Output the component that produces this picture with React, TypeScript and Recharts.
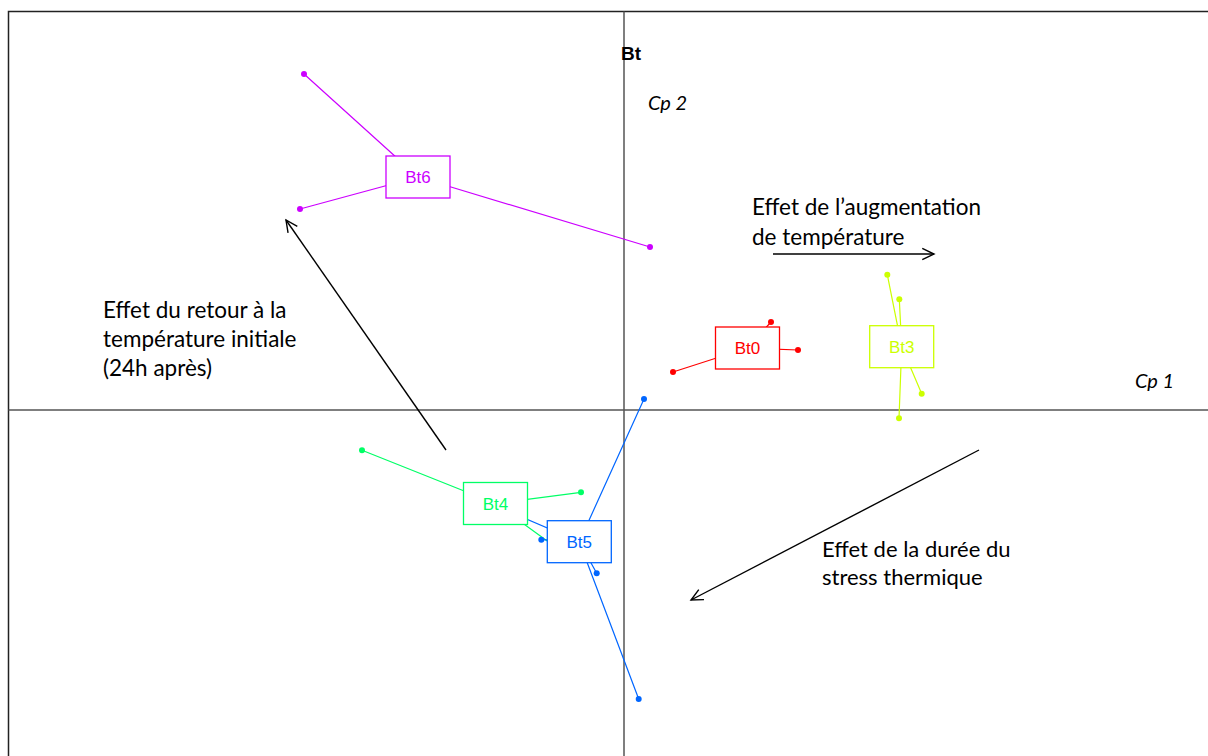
import React from 'react';
import {
  ScatterChart,
  Scatter,
  XAxis,
  YAxis,
  ReferenceLine,
  ReferenceArea,
  ReferenceDot,
} from 'recharts';

// ---- data (principal plane coordinates, Cp1 / Cp2) ----
const groupNames = ['Bt0', 'Bt3', 'Bt4', 'Bt5', 'Bt6'];
const groupColors = ['#FF0000', '#CCFF00', '#00FF66', '#0066FF', '#CC00FF'];

const bt0Points = [
  { x: 1.47, y: 0.88 },
  { x: 1.74, y: 0.6 },
  { x: 0.49, y: 0.38 },
];
const bt3Points = [
  { x: 2.633, y: 1.353 },
  { x: 2.753, y: 1.107 },
  { x: 2.977, y: 0.163 },
  { x: 2.75, y: -0.083 },
];
const bt4Points = [
  { x: -2.62, y: -0.403 },
  { x: -0.43, y: -0.823 },
  { x: -0.63, y: -1.41 },
  { x: -1.46, y: -1.1 },
];
const bt5Points = [
  { x: 0.2, y: 0.11 },
  { x: -0.827, y: -1.297 },
  { x: -0.273, y: -1.633 },
  { x: 0.147, y: -2.89 },
  { x: -1.48, y: -0.875 },
];
const bt6Points = [
  { x: -3.2, y: 3.36 },
  { x: -3.24, y: 2.01 },
  { x: 0.26, y: 1.63 },
];
const groupPoints = [bt0Points, bt3Points, bt4Points, bt5Points, bt6Points];

const groupCenters = [
  { x: 1.235, y: 0.62 },
  { x: 2.777, y: 0.633 },
  { x: -1.285, y: -0.935 },
  { x: -0.447, y: -1.317 },
  { x: -2.06, y: 2.33 },
];

const plotTitle = 'Bt';
const axis1Label = 'Cp 1';
const axis2Label = 'Cp 2';
const noteAugmentation = ['Effet de l\u2019augmentation', 'de température'];
const noteRetour = ['Effet du retour à la', 'température initiale', '(24h après)'];
const noteDuree = ['Effet de la durée du', 'stress thermique'];

const arrowAugmentation = [{ x: 1.49, y: 1.56 }, { x: 3.1, y: 1.56 }];
const arrowRetour = [{ x: -1.78, y: -0.4 }, { x: -3.38, y: 1.9 }];
const arrowDuree = [{ x: 3.55, y: -0.4 }, { x: 0.67, y: -1.9 }];

// plot frame limits
const frameXMin = -6.155;
const frameXMax = 6.15;
const frameYMin = -3.65;
const frameYMax = 3.985;

// ---- rendering helpers ----
const ArrowShape = (props: any) => {
  const { x1, y1, x2, y2 } = props;
  const ang = Math.atan2(y2 - y1, x2 - x1);
  const len = 13;
  const spread = Math.PI / 7;
  const ax = x2 - len * Math.cos(ang - spread);
  const ay = y2 - len * Math.sin(ang - spread);
  const bx = x2 - len * Math.cos(ang + spread);
  const by = y2 - len * Math.sin(ang + spread);
  return (
    <g>
      <line x1={x1} y1={y1} x2={x2} y2={y2} stroke="#000" strokeWidth={1.4} />
      <polyline
        points={`${ax},${ay} ${x2},${y2} ${bx},${by}`}
        fill="none"
        stroke="#000"
        strokeWidth={1.4}
      />
    </g>
  );
};

const makeTextShape =
  (lines: string[], opts: { size: number; spacing: number; italic?: boolean; bold?: boolean; family: string; anchor?: string }) =>
  (props: any) => {
    const { cx, cy } = props;
    return (
      <g>
        {lines.map((t, i) => (
          <text
            key={i}
            x={cx}
            y={cy + i * opts.spacing}
            fontSize={opts.size}
            fontFamily={opts.family}
            fontStyle={opts.italic ? 'italic' : 'normal'}
            fontWeight={opts.bold ? 'bold' : 'normal'}
            textAnchor={opts.anchor || 'start'}
            fill="#000"
          >
            {t}
          </text>
        ))}
      </g>
    );
  };

const noDot = () => <g />;

const makeDot = (color: string) => (props: any) =>
  <circle cx={props.cx} cy={props.cy} r={3} fill={color} stroke="none" />;

const makeBox = (name: string, color: string) => (props: any) => {
  const { cx, cy } = props;
  return (
    <g>
      <rect x={cx - 32} y={cy - 21} width={64} height={42} fill="#fff" stroke={color} strokeWidth={1.3} />
      <text
        x={cx}
        y={cy + 6}
        textAnchor="middle"
        fontSize={17}
        fontFamily="'Liberation Sans', Arial, sans-serif"
        fill={color}
      >
        {name}
      </text>
    </g>
  );
};

const calibri = "Lato, 'Open Sans', sans-serif";

export default function App() {
  const starData = groupPoints.map((pts, gi) =>
    pts.flatMap((p) => [groupCenters[gi], p])
  );

  return (
    <div
      style={{
        position: 'absolute',
        left: 0,
        top: 0,
        width: 1208,
        height: 756,
        overflow: 'hidden',
        background: '#fff',
      }}
    >
      <ScatterChart width={1240} height={780} margin={{ top: 0, right: 0, bottom: 0, left: 0 }}>
        <XAxis type="number" dataKey="x" domain={[-6.24, 6.16]} hide allowDataOverflow />
        <YAxis type="number" dataKey="y" domain={[-3.7, 4.1]} hide allowDataOverflow />

        <ReferenceLine
          segment={[{ x: 0, y: frameYMin }, { x: 0, y: frameYMax }]}
          stroke="#555"
          strokeWidth={1.5}
          ifOverflow="visible"
        />
        <ReferenceLine
          segment={[{ x: frameXMin, y: 0 }, { x: frameXMax, y: 0 }]}
          stroke="#555"
          strokeWidth={1.5}
          ifOverflow="visible"
        />
        <ReferenceArea
          x1={frameXMin}
          x2={frameXMax}
          y1={frameYMin}
          y2={frameYMax}
          fill="none"
          stroke="#222"
          strokeWidth={1.5}
          ifOverflow="visible"
        />

        {starData.map((d, gi) => (
          <Scatter
            key={'star' + gi}
            data={d}
            line={{ stroke: groupColors[gi], strokeWidth: 1.2 }}
            lineType="joint"
            shape={noDot}
            isAnimationActive={false}
          />
        ))}
        {groupPoints.map((pts, gi) => (
          <Scatter
            key={'pts' + gi}
            data={pts}
            shape={makeDot(groupColors[gi])}
            isAnimationActive={false}
          />
        ))}
        {groupCenters.map((c, gi) => (
          <Scatter
            key={'box' + gi}
            data={[c]}
            shape={makeBox(groupNames[gi], groupColors[gi])}
            isAnimationActive={false}
          />
        ))}

        <ReferenceLine segment={arrowAugmentation} shape={ArrowShape} ifOverflow="visible" />
        <ReferenceLine segment={arrowRetour} shape={ArrowShape} ifOverflow="visible" />
        <ReferenceLine segment={arrowDuree} shape={ArrowShape} ifOverflow="visible" />

        <ReferenceDot
          x={0.07}
          y={3.5}
          r={0}
          ifOverflow="visible"
          shape={makeTextShape([plotTitle], {
            size: 19,
            spacing: 0,
            bold: true,
            family: "'Liberation Sans', Arial, sans-serif",
            anchor: 'middle',
          })}
        />
        <ReferenceDot
          x={0.24}
          y={3.0}
          r={0}
          ifOverflow="visible"
          shape={makeTextShape([axis2Label], { size: 20, spacing: 0, italic: true, family: calibri })}
        />
        <ReferenceDot
          x={5.11}
          y={0.22}
          r={0}
          ifOverflow="visible"
          shape={makeTextShape([axis1Label], { size: 20, spacing: 0, italic: true, family: calibri })}
        />
        <ReferenceDot
          x={1.28}
          y={1.95}
          r={0}
          ifOverflow="visible"
          shape={makeTextShape(noteAugmentation, { size: 22.5, spacing: 30, family: calibri })}
        />
        <ReferenceDot
          x={-5.21}
          y={0.92}
          r={0}
          ifOverflow="visible"
          shape={makeTextShape(noteRetour, { size: 22.5, spacing: 29, family: calibri })}
        />
        <ReferenceDot
          x={1.98}
          y={-1.47}
          r={0}
          ifOverflow="visible"
          shape={makeTextShape(noteDuree, { size: 22, spacing: 28, family: calibri })}
        />
      </ScatterChart>
    </div>
  );
}
